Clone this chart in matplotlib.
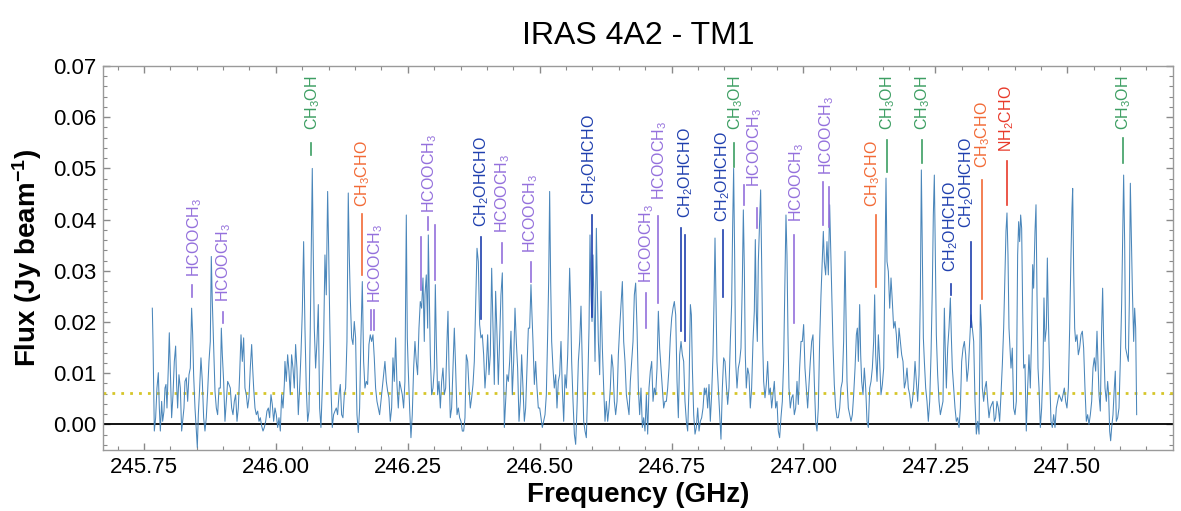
import numpy as np
import matplotlib
matplotlib.use("Agg")
import matplotlib.pyplot as plt

plt.rcParams['font.family'] = ['Liberation Sans', 'DejaVu Sans']
plt.rcParams['mathtext.fontset'] = 'custom'
plt.rcParams['mathtext.rm'] = 'Liberation Sans'
plt.rcParams['mathtext.bf'] = 'Liberation Sans:bold'
plt.rcParams['mathtext.default'] = 'regular'

# Spectrum towards IRAS 4A2, TM1 setup (GHz, Jy/beam)
freq_ghz = [
    245.7658, 245.7671, 245.7696, 245.7721, 245.7746, 245.7772, 245.7791, 245.7810, 245.7835, 245.7854,
    245.7879, 245.7898, 245.7917, 245.7936, 245.7961, 245.7980, 245.7999, 245.8024, 245.8050, 245.8075,
    245.8100, 245.8119, 245.8138, 245.8163, 245.8189, 245.8214, 245.8233, 245.8258, 245.8277, 245.8302,
    245.8328, 245.8353, 245.8378, 245.8403, 245.8423, 245.8441, 245.8467, 245.8492, 245.8511, 245.8530,
    245.8555, 245.8580, 245.8606, 245.8631, 245.8656, 245.8681, 245.8707, 245.8732, 245.8757, 245.8776,
    245.8795, 245.8821, 245.8846, 245.8871, 245.8896, 245.8922, 245.8947, 245.8966, 245.8985, 245.9010,
    245.9035, 245.9061, 245.9086, 245.9111, 245.9136, 245.9162, 245.9187, 245.9212, 245.9237, 245.9263,
    245.9288, 245.9313, 245.9339, 245.9364, 245.9389, 245.9414, 245.9440, 245.9465, 245.9490, 245.9515,
    245.9541, 245.9560, 245.9579, 245.9604, 245.9629, 245.9655, 245.9680, 245.9705, 245.9730, 245.9756,
    245.9781, 245.9806, 245.9831, 245.9857, 245.9882, 245.9907, 245.9932, 245.9958, 245.9983, 246.0008,
    246.0034, 246.0059, 246.0084, 246.0109, 246.0135, 246.0160,
    246.0172, 246.0197, 246.0223, 246.0248, 246.0273, 246.0298, 246.0324, 246.0349, 246.0374, 246.0399,
    246.0425, 246.0450, 246.0475, 246.0501, 246.0526, 246.0551, 246.0576, 246.0602, 246.0627, 246.0652,
    246.0677, 246.0690, 246.0709, 246.0728, 246.0753, 246.0779, 246.0804, 246.0829, 246.0854, 246.0880,
    246.0905, 246.0930, 246.0955, 246.0981, 246.1000, 246.1019, 246.1044, 246.1069, 246.1094, 246.1120,
    246.1145, 246.1170, 246.1196, 246.1221, 246.1246, 246.1271, 246.1297, 246.1322, 246.1347, 246.1372,
    246.1391, 246.1410, 246.1436, 246.1461, 246.1486, 246.1511, 246.1537, 246.1562, 246.1587, 246.1612,
    246.1638, 246.1663, 246.1688, 246.1714, 246.1739, 246.1764, 246.1789, 246.1815, 246.1840, 246.1865,
    246.1890, 246.1916, 246.1941, 246.1966, 246.1992, 246.2017, 246.2042, 246.2067, 246.2093, 246.2118,
    246.2143, 246.2168, 246.2194, 246.2219, 246.2244, 246.2270, 246.2295, 246.2320, 246.2345, 246.2371,
    246.2396, 246.2421, 246.2446, 246.2472, 246.2491, 246.2510, 246.2535, 246.2560, 246.2585, 246.2611,
    246.2636, 246.2661, 246.2686, 246.2712, 246.2737, 246.2762, 246.2788, 246.2813,
    246.2826, 246.2851, 246.2877, 246.2889, 246.2908, 246.2927, 246.2952, 246.2978, 246.3003, 246.3022,
    246.3041, 246.3066, 246.3091, 246.3117, 246.3142, 246.3167, 246.3192, 246.3218, 246.3243, 246.3262,
    246.3281, 246.3306, 246.3331, 246.3357, 246.3382, 246.3407, 246.3433, 246.3458, 246.3483, 246.3508,
    246.3534, 246.3559, 246.3584, 246.3609, 246.3635, 246.3660, 246.3685, 246.3710, 246.3736, 246.3761,
    246.3786, 246.3812, 246.3837, 246.3862, 246.3887, 246.3913, 246.3938, 246.3963, 246.3988, 246.4014,
    246.4039, 246.4064, 246.4090, 246.4115, 246.4140, 246.4165, 246.4191, 246.4216, 246.4241, 246.4266,
    246.4292, 246.4311, 246.4330, 246.4355, 246.4380, 246.4406, 246.4431, 246.4456, 246.4481, 246.4507,
    246.4532, 246.4557, 246.4582, 246.4608, 246.4633, 246.4658, 246.4684, 246.4709, 246.4734, 246.4759,
    246.4785, 246.4810, 246.4835, 246.4854, 246.4873, 246.4899, 246.4924, 246.4949, 246.4974, 246.5000,
    246.5025, 246.5050, 246.5075, 246.5101, 246.5126, 246.5151, 246.5170, 246.5189, 246.5208, 246.5227,
    246.5252, 246.5277, 246.5303, 246.5328, 246.5353, 246.5378, 246.5404, 246.5429, 246.5455,
    246.5480, 246.5505, 246.5531, 246.5556, 246.5568, 246.5587, 246.5606, 246.5632, 246.5657, 246.5682,
    246.5707, 246.5733, 246.5758, 246.5783, 246.5809, 246.5834, 246.5859, 246.5884, 246.5910, 246.5935,
    246.5954, 246.5973, 246.5992, 246.6011, 246.6030, 246.6049, 246.6074, 246.6093, 246.6112, 246.6137,
    246.6162, 246.6188, 246.6213, 246.6238, 246.6263, 246.6289, 246.6314, 246.6339, 246.6364, 246.6390,
    246.6415, 246.6440, 246.6466, 246.6491, 246.6516, 246.6541, 246.6567, 246.6592, 246.6617, 246.6643,
    246.6668, 246.6693, 246.6718, 246.6744, 246.6769, 246.6794, 246.6819, 246.6845, 246.6870, 246.6895,
    246.6920, 246.6946, 246.6971, 246.6996, 246.7022, 246.7047, 246.7072, 246.7097, 246.7123, 246.7148,
    246.7173, 246.7198, 246.7224, 246.7249, 246.7274, 246.7300, 246.7325, 246.7350, 246.7375, 246.7401,
    246.7426, 246.7451, 246.7476, 246.7502, 246.7527, 246.7552, 246.7578, 246.7603, 246.7628, 246.7653,
    246.7679, 246.7704, 246.7729, 246.7754, 246.7780, 246.7805, 246.7830, 246.7856, 246.7875, 246.7894,
    246.7919, 246.7944, 246.7969, 246.7995, 246.8020, 246.8045, 246.8070, 246.8096, 246.8121,
    246.8133, 246.8158, 246.8184, 246.8209, 246.8234, 246.8259, 246.8285, 246.8304, 246.8323, 246.8342,
    246.8360, 246.8386, 246.8411, 246.8436, 246.8462, 246.8487, 246.8512, 246.8537, 246.8563, 246.8588,
    246.8613, 246.8638, 246.8657, 246.8676, 246.8695, 246.8714, 246.8740, 246.8765, 246.8790, 246.8815,
    246.8841, 246.8860, 246.8879, 246.8897, 246.8916, 246.8942, 246.8967, 246.8992, 246.9017, 246.9043,
    246.9068, 246.9087, 246.9106, 246.9125, 246.9144, 246.9169, 246.9188, 246.9207, 246.9226, 246.9245,
    246.9270, 246.9295, 246.9321, 246.9346, 246.9371, 246.9397, 246.9422, 246.9447, 246.9472, 246.9498,
    246.9523, 246.9548, 246.9573, 246.9599, 246.9624, 246.9649, 246.9668, 246.9687, 246.9706, 246.9725,
    246.9750, 246.9776, 246.9801, 246.9826, 246.9852, 246.9877, 246.9902, 246.9927, 246.9953, 246.9978,
    247.0003, 247.0028, 247.0054, 247.0079, 247.0104, 247.0129, 247.0155, 247.0180, 247.0205, 247.0231,
    247.0256, 247.0281, 247.0306, 247.0332, 247.0357, 247.0376, 247.0395, 247.0420, 247.0445, 247.0471,
    247.0496, 247.0515, 247.0534, 247.0559, 247.0584, 247.0610, 247.0635, 247.0660, 247.0686, 247.0711,
    247.0736, 247.0761,
    247.0787, 247.0806, 247.0825, 247.0850, 247.0876, 247.0901, 247.0926, 247.0951, 247.0977, 247.1002,
    247.1021, 247.1040, 247.1065, 247.1084, 247.1103, 247.1128, 247.1153, 247.1179, 247.1204, 247.1229,
    247.1255, 247.1280, 247.1305, 247.1330, 247.1349, 247.1368, 247.1394, 247.1419, 247.1444, 247.1469,
    247.1495, 247.1520, 247.1545, 247.1564, 247.1583, 247.1608, 247.1634, 247.1659, 247.1684, 247.1709,
    247.1735, 247.1760, 247.1785, 247.1811, 247.1836, 247.1861, 247.1886, 247.1912, 247.1937, 247.1962,
    247.1987, 247.2013, 247.2038, 247.2063, 247.2088, 247.2114, 247.2139, 247.2164, 247.2190, 247.2215,
    247.2234, 247.2253, 247.2272, 247.2291, 247.2316, 247.2341, 247.2366, 247.2392, 247.2417, 247.2442,
    247.2461, 247.2480, 247.2499, 247.2518, 247.2543, 247.2569, 247.2594, 247.2619, 247.2644, 247.2670,
    247.2689, 247.2708, 247.2733, 247.2758, 247.2784, 247.2803, 247.2821, 247.2847, 247.2872, 247.2897,
    247.2923, 247.2948, 247.2973, 247.2998, 247.3024, 247.3049, 247.3074, 247.3099, 247.3125, 247.3150,
    247.3175, 247.3201, 247.3226, 247.3251, 247.3276, 247.3302, 247.3327, 247.3352, 247.3371, 247.3390,
    247.3415,
    247.3440, 247.3465, 247.3491, 247.3516, 247.3541, 247.3566, 247.3592, 247.3617, 247.3642, 247.3667,
    247.3693, 247.3718, 247.3743, 247.3769, 247.3794, 247.3819, 247.3838, 247.3857, 247.3876, 247.3895,
    247.3914, 247.3933, 247.3958, 247.3983, 247.4009, 247.4034, 247.4059, 247.4078, 247.4097, 247.4116,
    247.4135, 247.4154, 247.4173, 247.4198, 247.4223, 247.4249, 247.4274, 247.4299, 247.4324, 247.4344,
    247.4362, 247.4388, 247.4407, 247.4426, 247.4445, 247.4464, 247.4489, 247.4514, 247.4539, 247.4558,
    247.4577, 247.4603, 247.4622, 247.4640, 247.4666, 247.4691, 247.4716, 247.4742, 247.4767, 247.4792,
    247.4817, 247.4843, 247.4868, 247.4893, 247.4918, 247.4944, 247.4969, 247.4994, 247.5020, 247.5045,
    247.5070, 247.5089, 247.5102, 247.5121, 247.5140, 247.5158, 247.5184, 247.5209, 247.5234, 247.5260,
    247.5285, 247.5310, 247.5335, 247.5361, 247.5386, 247.5411, 247.5437, 247.5462, 247.5487, 247.5512,
    247.5538, 247.5563, 247.5582, 247.5601, 247.5626, 247.5651, 247.5670, 247.5689, 247.5715, 247.5740,
    247.5765, 247.5784, 247.5803, 247.5822, 247.5841, 247.5866, 247.5891, 247.5910, 247.5929, 247.5955,
    247.5980, 247.6005, 247.6030, 247.6049, 247.6068, 247.6087, 247.6106, 247.6132, 247.6157, 247.6176,
    247.6195, 247.6214, 247.6233, 247.6258, 247.6277, 247.6296, 247.6315,
]

flux_jy = [
    0.0227, 0.0162, -0.0013, 0.0013, 0.0071, 0.0101, 0.0032, -0.0013, 0.0045, 0.0006,
    0.0026, 0.0071, 0.0078, 0.0032, 0.0110, 0.0179, 0.0110, 0.0013, 0.0058, 0.0123,
    0.0153, 0.0078, 0.0032, 0.0097, 0.0071, -0.0013, 0.0006, 0.0032, 0.0084, 0.0091,
    0.0045, 0.0097, 0.0110, 0.0227, 0.0175, 0.0097, 0.0032, -0.0013, -0.0045, 0.0019,
    0.0071, 0.0130, 0.0084, 0.0013, -0.0013, 0.0013, 0.0065, 0.0123, 0.0162, 0.0328,
    0.0240, 0.0149, 0.0065, 0.0032, 0.0019, 0.0071, 0.0071, 0.0188, 0.0136, 0.0084,
    0.0006, 0.0045, 0.0084, 0.0078, 0.0071, 0.0032, 0.0019, 0.0045, 0.0058, 0.0006,
    0.0032, 0.0097, 0.0175, 0.0123, 0.0169, 0.0071, 0.0058, 0.0032, 0.0052, 0.0110,
    0.0156, 0.0110, 0.0071, 0.0032, 0.0019, 0.0026, 0.0006, 0.0013, -0.0003, -0.0013,
    -0.0006, 0.0006, 0.0026, 0.0032, 0.0013, 0.0058, 0.0039, 0.0006, 0.0032, 0.0019,
    -0.0006, 0.0013, -0.0013, 0.0058, 0.0032, 0.0078,
    0.0123, 0.0084, 0.0136, 0.0104, 0.0058, 0.0136, 0.0110, 0.0071, 0.0156, 0.0110,
    0.0019, 0.0071, 0.0136, 0.0221, 0.0357, 0.0188, 0.0071, 0.0006, 0.0026, 0.0188,
    0.0396, 0.0500, 0.0331, 0.0188, 0.0110, 0.0162, 0.0234, 0.0032, -0.0006, 0.0071,
    0.0162, 0.0331, 0.0253, 0.0455, 0.0344, 0.0214, 0.0071, -0.0006, 0.0019, 0.0026,
    0.0032, 0.0019, 0.0058, 0.0078, 0.0019, 0.0013, 0.0058, 0.0071, 0.0162, 0.0452,
    0.0331, 0.0247, 0.0169, 0.0156, 0.0201, 0.0169, 0.0019, -0.0016, 0.0032, 0.0169,
    0.0279, 0.0123, 0.0071, 0.0084, 0.0078, 0.0156, 0.0175, 0.0162, 0.0175, 0.0130,
    0.0071, 0.0045, 0.0032, 0.0019, 0.0045, 0.0071, 0.0097, 0.0123, 0.0084, 0.0065,
    0.0052, 0.0006, 0.0032, 0.0130, 0.0084, 0.0169, 0.0078, 0.0032, 0.0084, 0.0071,
    0.0058, 0.0032, 0.0084, 0.0409, 0.0169, 0.0104, 0.0032, -0.0026, 0.0019, 0.0110,
    0.0162, 0.0123, 0.0097, 0.0188, 0.0240, 0.0227, 0.0286, 0.0162,
    0.0253, 0.0292, 0.0188, 0.0370, 0.0247, 0.0136, 0.0058, 0.0071, 0.0110, 0.0273,
    0.0162, 0.0058, 0.0084, 0.0032, 0.0084, 0.0110, 0.0058, 0.0071, 0.0162, 0.0221,
    0.0110, 0.0013, 0.0032, 0.0110, 0.0188, 0.0110, 0.0019, 0.0032, 0.0013, 0.0006,
    -0.0013, -0.0013, 0.0013, 0.0136, 0.0123, 0.0071, 0.0032, 0.0052, 0.0078, 0.0123,
    0.0234, 0.0344, 0.0318, 0.0195, 0.0169, 0.0175, 0.0136, 0.0071, 0.0110, 0.0175,
    0.0097, 0.0136, 0.0305, 0.0188, 0.0078, 0.0260, 0.0175, 0.0078, 0.0162, 0.0253,
    0.0296, 0.0136, -0.0006, 0.0045, 0.0097, 0.0084, 0.0123, 0.0182, 0.0058, 0.0123,
    0.0227, 0.0162, 0.0110, 0.0006, 0.0045, 0.0136, 0.0071, 0.0006, 0.0032, 0.0110,
    0.0188, 0.0188, 0.0273, 0.0214, 0.0162, 0.0078, 0.0123, 0.0071, 0.0032, 0.0032,
    0.0013, -0.0006, 0.0006, 0.0019, 0.0058, 0.0175, 0.0279, 0.0455, 0.0279, 0.0162,
    0.0110, 0.0071, 0.0097, 0.0032, 0.0084, 0.0097, 0.0162, 0.0071, 0.0006,
    0.0097, 0.0071, 0.0136, 0.0253, 0.0305, 0.0234, 0.0123, 0.0045, -0.0019, -0.0039,
    0.0032, 0.0123, 0.0162, 0.0231, 0.0110, 0.0006, -0.0013, -0.0026, 0.0071, 0.0188,
    0.0370, 0.0253, 0.0201, 0.0331, 0.0234, 0.0123, 0.0383, 0.0266, 0.0162, 0.0097,
    0.0260, 0.0149, 0.0071, 0.0006, 0.0045, 0.0006, 0.0032, 0.0071, 0.0136, 0.0110,
    0.0045, 0.0019, 0.0045, 0.0136, 0.0188, 0.0234, 0.0279, 0.0162, 0.0123, 0.0058,
    0.0039, 0.0019, 0.0084, 0.0123, 0.0162, 0.0253, 0.0276, 0.0188, 0.0071, 0.0019,
    0.0071, -0.0006, 0.0013, -0.0013, 0.0058, -0.0019, 0.0071, 0.0104, 0.0123, 0.0045,
    0.0071, 0.0058, 0.0110, 0.0221, 0.0149, 0.0110, 0.0071, 0.0032, 0.0045, 0.0045,
    0.0071, 0.0110, 0.0169, 0.0208, 0.0227, 0.0240, 0.0214, 0.0084, 0.0013, 0.0136,
    0.0162, 0.0136, 0.0123, 0.0045, 0.0006, -0.0013, 0.0071, 0.0234, 0.0214, 0.0110,
    0.0019, -0.0019, -0.0006, 0.0032, -0.0013, 0.0006, 0.0013, 0.0032, 0.0071,
    0.0058, 0.0071, 0.0032, 0.0078, 0.0006, 0.0058, 0.0136, 0.0240, 0.0364, 0.0240,
    0.0123, 0.0071, 0.0019, -0.0029, 0.0071, 0.0130, 0.0123, 0.0078, 0.0039, 0.0071,
    0.0162, 0.0234, 0.0383, 0.0500, 0.0331, 0.0123, 0.0071, 0.0110, 0.0123, 0.0149,
    0.0279, 0.0419, 0.0305, 0.0136, 0.0071, 0.0110, 0.0097, 0.0032, 0.0071, 0.0162,
    0.0221, 0.0361, 0.0221, 0.0162, 0.0318, 0.0396, 0.0458, 0.0318, 0.0162, 0.0084,
    0.0052, 0.0078, 0.0123, 0.0058, 0.0071, 0.0032, 0.0058, 0.0084, 0.0032, 0.0045,
    -0.0013, -0.0026, 0.0013, 0.0045, 0.0123, 0.0292, 0.0409, 0.0331, 0.0175, 0.0071,
    0.0032, 0.0052, 0.0058, 0.0019, 0.0032, 0.0084, 0.0039, 0.0110, 0.0162, 0.0162,
    0.0195, 0.0110, 0.0071, 0.0032, 0.0078, 0.0123, 0.0162, 0.0175, 0.0084, 0.0006,
    -0.0013, 0.0032, 0.0162, 0.0253, 0.0325, 0.0377, 0.0318, 0.0292, 0.0357, 0.0292,
    0.0429, 0.0344, 0.0253, 0.0156, 0.0078, 0.0032, 0.0013, 0.0013, 0.0032, 0.0071,
    0.0084, 0.0162,
    0.0338, 0.0214, 0.0084, 0.0032, 0.0019, 0.0006, 0.0019, 0.0058, 0.0110, 0.0175,
    0.0188, 0.0123, 0.0234, 0.0136, 0.0084, 0.0058, 0.0110, 0.0071, 0.0006, -0.0006,
    0.0071, 0.0084, 0.0110, 0.0162, 0.0253, 0.0136, 0.0084, 0.0175, 0.0123, 0.0058,
    0.0078, 0.0110, 0.0312, 0.0481, 0.0318, 0.0299, 0.0227, 0.0286, 0.0240, 0.0188,
    0.0201, 0.0175, 0.0130, 0.0188, 0.0162, 0.0136, 0.0123, 0.0071, 0.0084, 0.0110,
    0.0071, 0.0058, 0.0032, 0.0045, 0.0071, 0.0123, 0.0084, 0.0045, 0.0097, 0.0253,
    0.0497, 0.0331, 0.0169, 0.0123, 0.0071, 0.0045, 0.0006, 0.0045, 0.0136, 0.0266,
    0.0409, 0.0487, 0.0331, 0.0175, 0.0097, 0.0045, 0.0019, 0.0032, 0.0045, 0.0227,
    0.0136, 0.0071, 0.0149, 0.0188, 0.0247, 0.0169, 0.0110, 0.0071, 0.0032, 0.0006,
    0.0013, -0.0006, 0.0032, 0.0123, 0.0149, 0.0162, 0.0136, 0.0084, 0.0110, 0.0162,
    0.0214, 0.0188, 0.0162, 0.0045, -0.0019, 0.0006, -0.0019, 0.0234, 0.0188, 0.0071,
    0.0045,
    0.0071, 0.0084, 0.0045, 0.0013, 0.0032, 0.0039, 0.0045, 0.0006, 0.0013, 0.0045,
    0.0032, 0.0006, 0.0058, 0.0117, 0.0188, 0.0292, 0.0377, 0.0413, 0.0331, 0.0188,
    0.0149, 0.0110, 0.0149, 0.0032, 0.0019, 0.0045, 0.0331, 0.0396, 0.0357, 0.0409,
    0.0383, 0.0227, 0.0110, 0.0117, -0.0013, 0.0071, 0.0136, 0.0071, 0.0175, 0.0312,
    0.0266, 0.0377, 0.0429, 0.0253, 0.0110, 0.0071, -0.0006, 0.0032, 0.0110, 0.0247,
    0.0162, 0.0188, 0.0325, 0.0214, 0.0097, 0.0006, -0.0006, 0.0019, -0.0006, 0.0032,
    0.0045, 0.0058, 0.0052, 0.0045, 0.0058, 0.0071, 0.0045, 0.0032, 0.0071, 0.0188,
    0.0331, 0.0422, 0.0461, 0.0299, 0.0188, 0.0162, 0.0175, 0.0136, 0.0149, 0.0175,
    0.0182, 0.0149, 0.0071, 0.0006, 0.0019, 0.0000, 0.0019, 0.0045, 0.0110, 0.0130,
    0.0104, 0.0182, 0.0123, 0.0058, 0.0026, 0.0188, 0.0266, 0.0162, 0.0071, 0.0045,
    0.0084, 0.0058, -0.0013, -0.0032, -0.0006, 0.0019, 0.0071, 0.0104, 0.0006, 0.0013,
    0.0032, 0.0123, 0.0234, 0.0357, 0.0487, 0.0357, 0.0149, 0.0136, 0.0123, 0.0240,
    0.0471, 0.0364, 0.0266, 0.0162, 0.0227, 0.0188, 0.0019,
]

rms_level = 0.0062  # 3 sigma

# Line identifications: label text position (freq, lower end of text)
label_species = ['HCOOCH3', 'HCOOCH3', 'CH3OH', 'CH3CHO', 'HCOOCH3', 'HCOOCH3', 'CH2OHCHO',
                 'HCOOCH3', 'HCOOCH3', 'CH2OHCHO', 'HCOOCH3', 'HCOOCH3', 'CH2OHCHO', 'CH2OHCHO',
                 'CH3OH', 'HCOOCH3', 'HCOOCH3', 'HCOOCH3', 'CH3CHO', 'CH3OH', 'CH3OH',
                 'CH2OHCHO', 'CH2OHCHO', 'CH3CHO', 'NH2CHO', 'CH3OH']
label_freq = [245.8453, 245.9016, 246.0690, 246.1645, 246.1897, 246.2921, 246.3901,
              246.4295, 246.4835, 246.5953, 246.7024, 246.7271, 246.7763, 246.8474,
              246.8721, 246.9081, 246.9871, 247.0440, 247.1317, 247.1596, 247.2259,
              247.2796, 247.3093, 247.3397, 247.3851, 247.6061]
label_y = [0.0287, 0.0240, 0.0575, 0.0425, 0.0238, 0.0413, 0.0386,
           0.0374, 0.0335, 0.0429, 0.0277, 0.0439, 0.0404, 0.0396,
           0.0575, 0.0464, 0.0396, 0.0487, 0.0425, 0.0575, 0.0575,
           0.0298, 0.0384, 0.0501, 0.0532, 0.0575]

# Transition markers: frequency and vertical extent
mark_species = ['HCOOCH3', 'HCOOCH3', 'CH3OH', 'CH3CHO', 'HCOOCH3', 'HCOOCH3',
                'HCOOCH3', 'HCOOCH3', 'HCOOCH3', 'CH2OHCHO', 'HCOOCH3', 'HCOOCH3',
                'CH2OHCHO', 'HCOOCH3', 'HCOOCH3', 'CH2OHCHO', 'CH2OHCHO', 'CH2OHCHO',
                'CH3OH', 'HCOOCH3', 'HCOOCH3', 'HCOOCH3', 'HCOOCH3', 'HCOOCH3',
                'CH3CHO', 'CH3OH', 'CH3OH', 'CH2OHCHO', 'CH2OHCHO', 'CH3CHO',
                'NH2CHO', 'CH3OH']
mark_freq = [245.8404, 245.8992, 246.0675, 246.1636, 246.1797, 246.1854,
             246.2750, 246.2889, 246.3016, 246.3882, 246.4291, 246.4835,
             246.5997, 246.7009, 246.7246, 246.7674, 246.7758, 246.8480,
             246.8688, 246.8872, 246.9113, 246.9820, 247.0375, 247.0489,
             247.1369, 247.1577, 247.2240, 247.2790, 247.3175, 247.3383,
             247.3851, 247.6061]
mark_lo = [0.0248, 0.0199, 0.0526, 0.0292, 0.0185, 0.0185,
           0.0263, 0.0380, 0.0283, 0.0205, 0.0316, 0.0279,
           0.0209, 0.0189, 0.0238, 0.0183, 0.0162, 0.0248,
           0.0503, 0.0429, 0.0384, 0.0199, 0.0390, 0.0386,
           0.0269, 0.0493, 0.0511, 0.0253, 0.0191, 0.0244,
           0.0429, 0.0511]
mark_hi = [0.0273, 0.0220, 0.0550, 0.0411, 0.0224, 0.0224,
           0.0367, 0.0406, 0.0390, 0.0367, 0.0355, 0.0318,
           0.0409, 0.0257, 0.0407, 0.0384, 0.0370, 0.0380,
           0.0550, 0.0468, 0.0423, 0.0370, 0.0474, 0.0464,
           0.0409, 0.0556, 0.0556, 0.0275, 0.0357, 0.0478,
           0.0515, 0.0560]

species_tex = {
    'HCOOCH3': r'HCOOCH$_3$',
    'CH3OH': r'CH$_3$OH',
    'CH3CHO': r'CH$_3$CHO',
    'CH2OHCHO': r'CH$_2$OHCHO',
    'NH2CHO': r'NH$_2$CHO',
}
species_color = {
    'HCOOCH3': '#9470dc',
    'CH3OH': '#3c9e62',
    'CH3CHO': '#f26a36',
    'CH2OHCHO': '#1f3fae',
    'NH2CHO': '#e8392a',
}

assert len(freq_ghz) == len(flux_jy)

fig = plt.figure(figsize=(11.81, 5.11), dpi=100)
ax = fig.add_axes([0.0872, 0.1194, 0.9060, 0.7514])

ax.plot(freq_ghz, flux_jy, color='#4a86ba', lw=0.75, zorder=3)
ax.axhline(0, color='black', lw=1.3, zorder=2)
ax.axhline(rms_level, color='#d6c62a', lw=2.0, ls=(0, (1, 2.2)), zorder=2)

for f, lo, hi, sp in zip(mark_freq, mark_lo, mark_hi, mark_species):
    ax.plot([f, f], [lo, hi], color=species_color[sp], lw=1.2, zorder=4)

for f, y, sp in zip(label_freq, label_y, label_species):
    ax.text(f, y, species_tex[sp], rotation=90, ha='center', va='bottom',
            fontsize=11.5, color=species_color[sp], zorder=5)

ax.set_xlim(245.6723, 247.7003)
ax.set_ylim(-0.005, 0.07)
ax.set_xticks([245.75, 246.00, 246.25, 246.50, 246.75, 247.00, 247.25, 247.50])
ax.set_xticks(np.arange(245.70, 247.70, 0.05), minor=True)
ax.set_yticks([0.00, 0.01, 0.02, 0.03, 0.04, 0.05, 0.06, 0.07])
ax.set_yticks(np.arange(-0.004, 0.0701, 0.002), minor=True)
ax.xaxis.set_major_formatter(plt.FormatStrFormatter('%.2f'))
ax.yaxis.set_major_formatter(plt.FormatStrFormatter('%.2f'))

for s in ax.spines.values():
    s.set_color('#9a9a9a')
    s.set_linewidth(1.0)
ax.tick_params(which='both', direction='in', top=True, right=True,
               color='#8a8a8a', labelsize=16, pad=5)
ax.tick_params(which='major', length=5, width=1.0)
ax.tick_params(which='minor', length=3, width=0.8)

ax.set_xlabel('Frequency (GHz)', fontsize=20, fontweight='bold', labelpad=3)
ax.set_ylabel(r'Flux (Jy beam$^{\mathbf{-1}}$)', fontsize=20, fontweight='bold', labelpad=6)
ax.set_title('IRAS 4A2 - TM1', fontsize=23, pad=16)

fig.savefig('out.png', dpi=100)
